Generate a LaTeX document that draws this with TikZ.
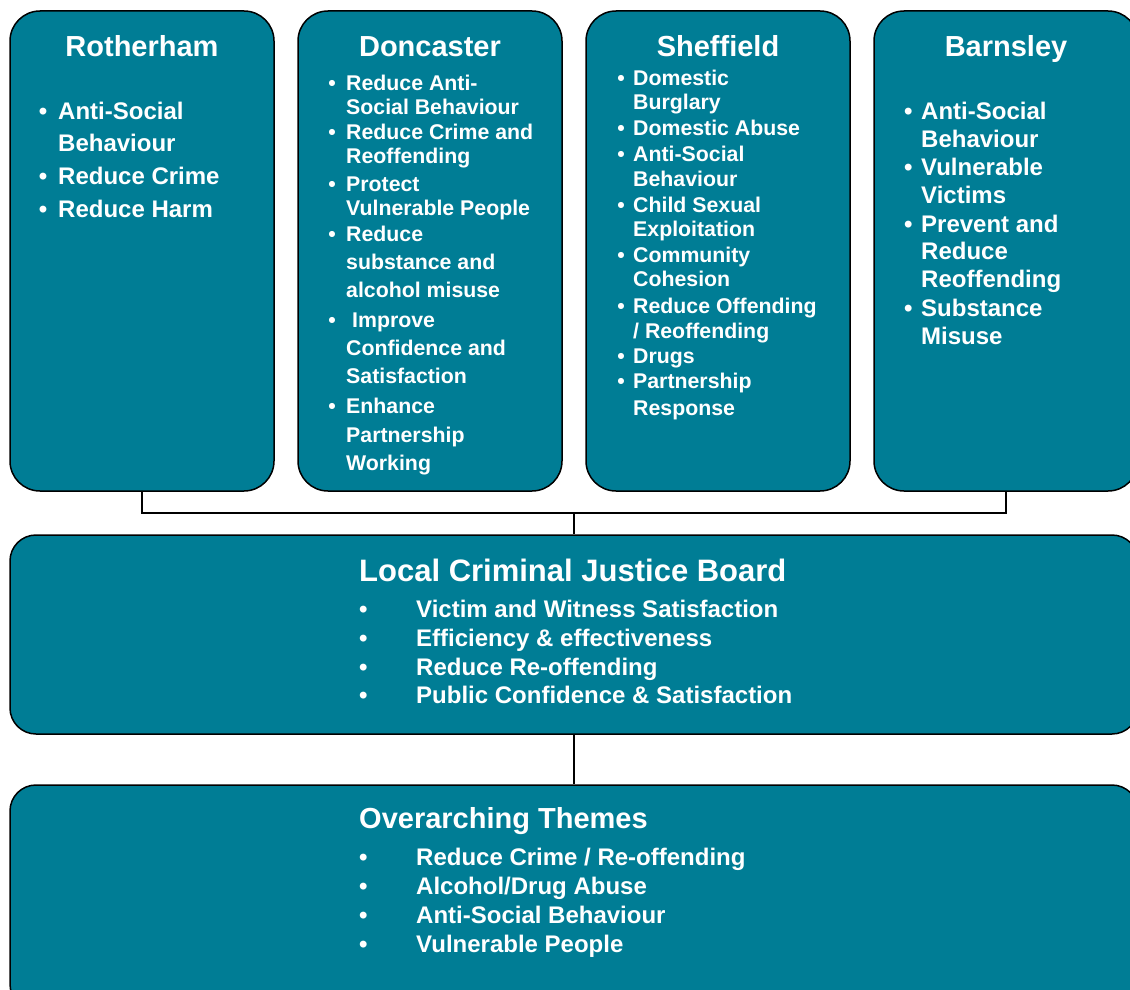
\documentclass[tikz,border=0pt]{standalone}
\usepackage{fontspec}
\setmainfont{Liberation Sans}
\definecolor{teal}{HTML}{007D95}
\newcommand{\bul}[1]{\llap{\textbullet\hspace{#1pt}}}
\begin{document}
\begin{tikzpicture}[x=1pt,y=-1pt,
  box/.style={draw=black, line width=1.5pt, fill=teal, rounded corners=30pt, inner sep=0pt},
  wbox/.style={box, rounded corners=26pt},
  conn/.style={draw=black, line width=1.5pt},
  ttl/.style={anchor=base, inner sep=0pt, text=white, font=\bfseries\fontsize{29}{34}\selectfont},
  wttl/.style={anchor=base west, inner sep=0pt, text=white, font=\bfseries\fontsize{29}{34}\selectfont},
  big/.style={anchor=base west, inner sep=0pt, text=white, font=\bfseries\fontsize{24}{28}\selectfont},
  sml/.style={anchor=base west, inner sep=0pt, text=white, font=\bfseries\fontsize{21.3}{25}\selectfont},
]
\useasboundingbox (0,0) rectangle (1130,990);
\clip (0,0) rectangle (1130,990);

% boxes
\node[box, minimum width=264pt, minimum height=480pt] (rot) at (142,251) {};
\node[box, minimum width=264pt, minimum height=480pt] (don) at (430,251) {};
\node[box, minimum width=264pt, minimum height=480pt] (she) at (718,251) {};
\node[box, minimum width=264pt, minimum height=480pt] (bar) at (1006,251) {};
\node[wbox, minimum width=1128pt, minimum height=199pt] (lcjb) at (574,634.5) {};
\node[wbox, minimum width=1128pt, minimum height=225pt] (over) at (574,897.5) {};

% connectors
\coordinate (mid) at (574,513);
\draw[conn] (rot.south) |- (mid) -| (bar.south);
\draw[conn] (mid) -- (lcjb.north);
\draw[conn] (lcjb.south) -- (over.north);

% Rotherham
\node[ttl] (rotT) at (142,57) {Rotherham};
\node[big] (r1) at (58,119) {\bul{10.8}Anti-Social};
\node[big] (r2) at (58,151) {Behaviour};
\node[big] (r3) at (58,184) {\bul{10.8}Reduce Crime};
\node[big] (r4) at (58,217) {\bul{10.8}Reduce Harm};

% Doncaster
\node[ttl] (donT) at (430,57) {Doncaster};
\node[sml] (d1) at (346,90) {\bul{10.3}Reduce Anti-};
\node[sml] (d2) at (346,114) {Social Behaviour};
\node[sml] (d3) at (346,139) {\bul{10.3}Reduce Crime and};
\node[sml] (d4) at (346,163) {Reoffending};
\node[sml] (d5) at (346,191) {\bul{10.3}Protect};
\node[sml] (d6) at (346,215) {Vulnerable People};
\node[sml] (d7) at (346,241) {\bul{10.3}Reduce};
\node[sml] (d8) at (346,269) {substance and};
\node[sml] (d9) at (346,297) {alcohol misuse};
\node[sml] (d10) at (352,327) {\bul{16.3}Improve};
\node[sml] (d11) at (346,355) {Confidence and};
\node[sml] (d12) at (346,383) {Satisfaction};
\node[sml] (d13) at (346,413) {\bul{10.3}Enhance};
\node[sml] (d14) at (346,442) {Partnership};
\node[sml] (d15) at (346,470) {Working};

% Sheffield
\node[ttl] (sheT) at (718,57) {Sheffield};
\node[sml] (s1) at (633,85) {\bul{8.3}Domestic};
\node[sml] (s2) at (633,109) {Burglary};
\node[sml] (s3) at (633,135) {\bul{8.3}Domestic Abuse};
\node[sml] (s4) at (633,161) {\bul{8.3}Anti-Social};
\node[sml] (s5) at (633,186) {Behaviour};
\node[sml] (s6) at (633,212) {\bul{8.3}Child Sexual};
\node[sml] (s7) at (633,236) {Exploitation};
\node[sml] (s8) at (633,262) {\bul{8.3}Community};
\node[sml] (s9) at (633,286) {Cohesion};
\node[sml] (s10) at (633,313) {\bul{8.3}Reduce Offending};
\node[sml] (s11) at (633,338) {/ Reoffending};
\node[sml] (s12) at (633,363) {\bul{8.3}Drugs};
\node[sml] (s13) at (633,388) {\bul{8.3}Partnership};
\node[sml] (s14) at (633,415) {Response};

% Barnsley
\node[ttl] (barT) at (1006,57) {Barnsley};
\node[big] (b1) at (921,119) {\bul{8.8}Anti-Social};
\node[big] (b2) at (921,147) {Behaviour};
\node[big] (b3) at (921,175) {\bul{8.8}Vulnerable};
\node[big] (b4) at (921,203) {Victims};
\node[big] (b5) at (921,232) {\bul{8.8}Prevent and};
\node[big] (b6) at (921,259) {Reduce};
\node[big] (b7) at (921,287) {Reoffending};
\node[big] (b8) at (921,316) {\bul{8.8}Substance};
\node[big] (b9) at (921,344) {Misuse};

% Local Criminal Justice Board
\node[wttl, font=\bfseries\fontsize{31}{36}\selectfont] (lT) at (359,581) {Local Criminal Justice Board};
\node[big] (l1) at (416,617.7) {\bul{48.8}Victim and Witness Satisfaction};
\node[big] (l2) at (416,646) {\bul{48.8}Efficiency \& effectiveness};
\node[big] (l3) at (416,675) {\bul{48.8}Reduce Re-offending};
\node[big] (l4) at (416,703) {\bul{48.8}Public Confidence \& Satisfaction};

% Overarching Themes
\node[wttl] (oT) at (359,828) {Overarching Themes};
\node[big] (o1) at (416,865) {\bul{48.8}Reduce Crime / Re-offending};
\node[big] (o2) at (416,894) {\bul{48.8}Alcohol/Drug Abuse};
\node[big] (o3) at (416,923) {\bul{48.8}Anti-Social Behaviour};
\node[big] (o4) at (416,952) {\bul{48.8}Vulnerable People};
\end{tikzpicture}
\end{document}
